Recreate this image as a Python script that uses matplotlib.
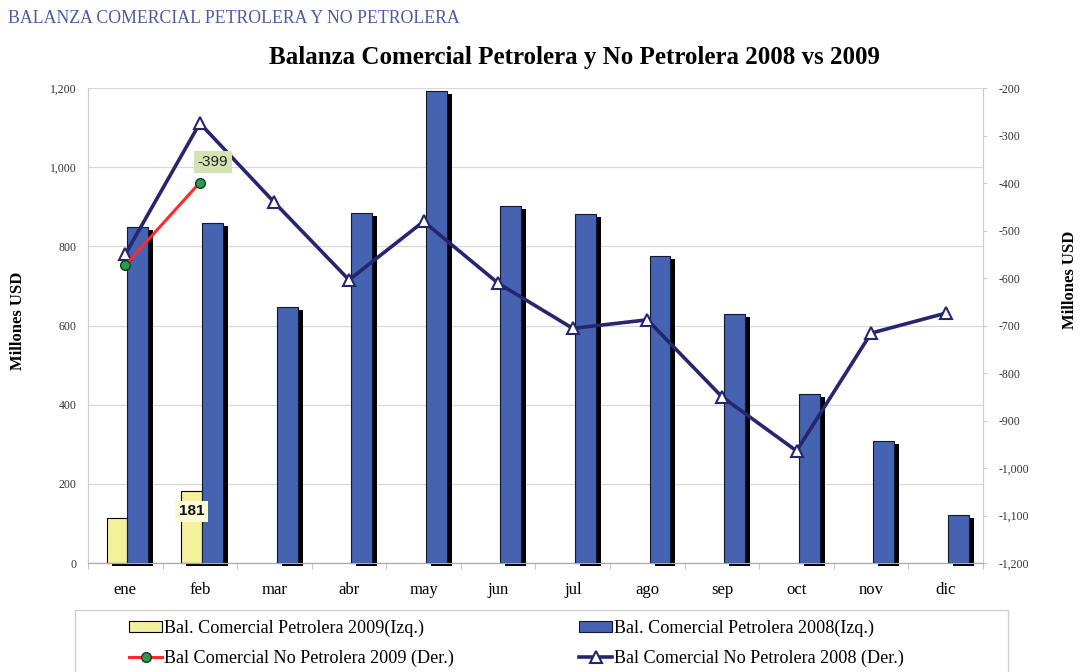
import matplotlib.pyplot as plt
import matplotlib.patheffects as pe
from matplotlib.patches import Rectangle, Patch
import numpy as np

# Monthly trade balance, millions of USD
months = ['ene', 'feb', 'mar', 'abr', 'may', 'jun', 'jul', 'ago', 'sep', 'oct', 'nov', 'dic']
pet_2009 = [113, 181]
pet_2008 = [848, 860, 648, 885, 1193, 902, 883, 775, 629, 426, 308, 121]
nopet_2009 = [-573, -399]
nopet_2008 = [-550, -274, -441, -604, -481, -611, -706, -688, -850, -964, -716, -674]

serif = 'Liberation Serif'
sans = 'Liberation Sans'
yellow = '#F3F29C'
blue = '#4563B0'

fig = plt.figure(figsize=(10.82, 6.72), dpi=100)
ax = fig.add_axes([0.0813, 0.1622, 0.8272, 0.7068])
ax2 = ax.twinx()

x = np.arange(len(months))
w = 0.28
shadow = [pe.SimplePatchShadow(offset=(3.6, -2.2), shadow_rgbFace='black', alpha=1.0), pe.Normal()]

ax.bar(x[:len(pet_2009)] - w / 2 + 0.03, pet_2009, w, color=yellow, edgecolor='black',
       linewidth=0.8, clip_on=False, path_effects=shadow, zorder=2)
ax.bar(x + w / 2 + 0.03, pet_2008, w, color=blue, edgecolor='#101830',
       linewidth=0.8, clip_on=False, path_effects=shadow, zorder=3)

l09, = ax2.plot(x[:len(nopet_2009)], nopet_2009, color='#FF2A2A', lw=2.2, marker='o',
                markersize=7, markerfacecolor='#2E9A4E', markeredgecolor='#0F3D20', zorder=4)
l08, = ax2.plot(x, nopet_2008, color='#262670', lw=2.6, marker='^', markersize=9,
                markerfacecolor='white', markeredgecolor='#262670', markeredgewidth=1.5, zorder=3)

# value labels
ax2.annotate(f'{nopet_2009[1]}', xy=(x[1], nopet_2009[1]), xytext=(9.5, 15),
             textcoords='offset points', ha='center', va='center', fontsize=11,
             family=sans, color='#222222',
             bbox=dict(boxstyle='square,pad=0.25', fc='#D4E2B4', ec='none'), zorder=6)
ax.annotate(f'{pet_2009[1]}', xy=(x[1] - w / 2 + 0.03, pet_2009[1]), xytext=(0, -14.5),
            textcoords='offset points', ha='center', va='center', fontsize=11,
            fontweight='bold', family=sans, color='#111111',
            bbox=dict(boxstyle='square,pad=0.25', fc='#FBFBD8', ec='none'), zorder=6)

# left axis
ax.set_xlim(-0.5, len(months) - 0.5)
ax.set_ylim(0, 1200)
ax.set_yticks(range(0, 1201, 200))
ax.set_yticklabels([f'{v:,}' for v in range(0, 1201, 200)], family=serif, fontsize=8.5,
                   color='#333333')
ax.tick_params(axis='y', length=0, pad=8)
ax.yaxis.grid(True, color='#D8D8D8', lw=0.9)
ax.set_axisbelow(True)

ax.set_xticks(x)
ax.set_xticklabels(months, family=serif, fontsize=12)
ax.tick_params(axis='x', which='major', length=0, pad=14)
ax.set_xticks(np.arange(-0.5, len(months)), minor=True)
ax.tick_params(axis='x', which='minor', length=4, color='#BBBBBB', direction='out')

# right axis
ax2.set_ylim(-1200, -200)
rt = list(range(-1200, -199, 100))
ax2.set_yticks(rt)
ax2.set_yticklabels([f'{v:,}' for v in rt], family=serif, fontsize=8.5, color='#333333')
ax2.tick_params(axis='y', length=3, color='#CCCCCC', pad=8)

for a in (ax, ax2):
    a.spines['top'].set_visible(False)
    a.spines['left'].set_color('#CCCCCC')
    a.spines['right'].set_color('#CCCCCC')
    a.spines['bottom'].set_color('#AAAAAA')

# titles and axis names
fig.text(0.0074, 0.972, 'BALANZA COMERCIAL PETROLERA Y NO PETROLERA', family=serif,
         fontsize=12.8, color='#4A5BA6', ha='left', va='center')
fig.text(0.531, 0.915, 'Balanza Comercial Petrolera y No Petrolera 2008 vs 2009',
         family=serif, fontsize=18, fontweight='bold', ha='center', va='center')
fig.text(0.017, 0.522, 'Millones USD', family=serif, fontsize=12, fontweight='bold',
         rotation=90, ha='center', va='center')
fig.text(0.989, 0.583, 'Millones USD', family=serif, fontsize=12, fontweight='bold',
         rotation=90, ha='center', va='center')

# legend with a frame running off the bottom edge
fig.add_artist(Rectangle((0.0693, -0.05), 0.8623, 0.1423, transform=fig.transFigure,
                         fill=False, ec='#D0D0D0', lw=1))
h_y = Patch(fc=yellow, ec='black', lw=0.8)
h_b = Patch(fc=blue, ec='#101830', lw=0.8)
fig.legend([h_y, l09, h_b, l08],
           ['Bal. Comercial Petrolera 2009(Izq.)', 'Bal Comercial No Petrolera 2009 (Der.)',
            'Bal. Comercial Petrolera 2008(Izq.)', 'Bal Comercial No Petrolera 2008 (Der.)'],
           ncol=2, loc='upper left', bbox_to_anchor=(0.111, 0.091), frameon=False,
           prop={'family': serif, 'size': 13.1}, handlelength=1.8, handleheight=0.55,
           handletextpad=0.1, columnspacing=6.9, labelspacing=0.66, borderpad=0)

fig.savefig('out.png', dpi=100)
